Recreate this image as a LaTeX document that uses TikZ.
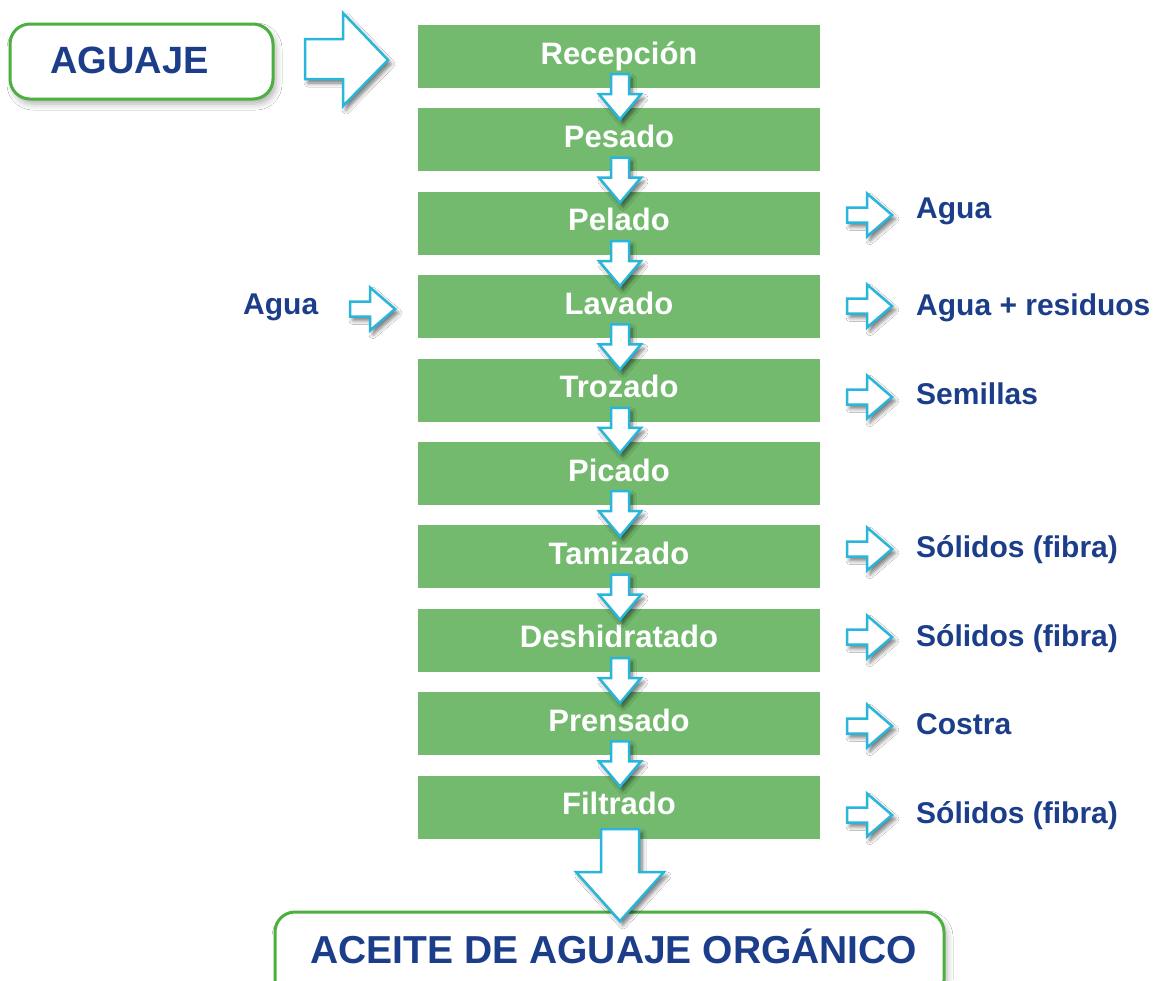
\documentclass[tikz,border=0pt]{standalone}
\usepackage{fontspec}
\setmainfont{Liberation Sans}
\usetikzlibrary{shadows,shadows.blur}
\definecolor{boxgreen}{RGB}{115,186,111}
\definecolor{navy}{RGB}{28,62,138}
\definecolor{arrowcyan}{RGB}{41,182,218}
\definecolor{framegreen}{RGB}{76,175,63}
\tikzset{
  stepbox/.style={fill=boxgreen, draw=none, minimum width=402pt, minimum height=63pt,
    inner sep=0pt, text=white, font=\fontsize{31}{36}\selectfont\bfseries,
    text height=23pt, text depth=8pt},
  blockarrow/.style={draw=arrowcyan, fill=white, line width=2.5pt, line join=miter,
    blur shadow={shadow xshift=3pt, shadow yshift=-4pt, shadow blur radius=4pt, shadow blur steps=6, shadow opacity=55}},
  sidelabel/.style={text=navy, font=\fontsize{30}{34}\selectfont\bfseries, anchor=west,
    inner sep=0pt, text height=21.5pt, text depth=0pt},
  endbox/.style={draw=framegreen, line width=3pt, fill=white, rounded corners=20pt,
    inner sep=0pt, blur shadow={shadow xshift=3pt, shadow yshift=-5pt, shadow blur radius=6pt, shadow blur steps=6, shadow opacity=30}},
  titletext/.style={text=navy, inner sep=0pt, text depth=0pt},
  downarrow/.pic={\draw[blockarrow] (-9,0) -- (9,0) -- (9,20) -- (21,20) -- (0,45) -- (-21,20) -- (-9,20) -- cycle;},
  rightarrow/.pic={\draw[blockarrow] (0,-7.5) -- (20,-7.5) -- (20,-21.5) -- (45,0) -- (20,21.5) -- (20,7.5) -- (0,7.5) -- cycle;},
}
\begin{document}
\begin{tikzpicture}[x=1pt,y=-1pt]
\useasboundingbox (0,0) rectangle (1159,980);
\clip (0,0) rectangle (1159,980);
\fill[white] (0,0) rectangle (1159,980);

% process boxes
\node[stepbox] (b1)  at (619,56.5)  {Recepción};
\node[stepbox] (b2)  at (619,139.9) {Pesado};
\node[stepbox] (b3)  at (619,223.3) {Pelado};
\node[stepbox] (b4)  at (619,306.7) {Lavado};
\node[stepbox] (b5)  at (619,390.1) {Trozado};
\node[stepbox] (b6)  at (619,473.5) {Picado};
\node[stepbox] (b7)  at (619,556.9) {Tamizado};
\node[stepbox] (b8)  at (619,640.3) {Deshidratado};
\node[stepbox] (b9)  at (619,723.7) {Prensado};
\node[stepbox] (b10) at (619,807.1) {Filtrado};

% arrows between boxes
\foreach \b in {b1,b2,b3,b4,b5,b6,b7,b8,b9}{
  \pic at ([xshift=1pt,yshift=14pt]\b.south) {downarrow};
}

% input box
\node[endbox, minimum width=263pt, minimum height=75pt] (aguajebox) at (141.5,61.5) {};
\node[titletext, font=\fontsize{38}{42}\selectfont\bfseries, text height=27pt] (aguajetxt) at (129.5,59.5) {AGUAJE};
\draw[blockarrow] (305,39) -- (343,39) -- (343,13) -- (388,60) -- (343,106) -- (343,79) -- (305,79) -- cycle;

% output box
\node[endbox, minimum width=669pt, minimum height=88pt] (aceite) at (609.5,956) {};
\node[titletext, font=\fontsize{39}{44}\selectfont\bfseries, text height=28pt] (aceitetxt) at (614,949) {ACEITE DE AGUAJE ORGÁNICO};
\draw[blockarrow] (601,829) -- (639,829) -- (639,872) -- (664,872) -- (620,921) -- (576,872) -- (601,872) -- cycle;

% left input
\node[sidelabel] (inagua) at (243,304) {Agua};
\pic at (350,309) {rightarrow};

% right outputs
\pic at (847,215) {rightarrow};
\node[sidelabel] (o1) at (916,207.5) {Agua};
\pic at (847,306) {rightarrow};
\node[sidelabel] (o2) at (916,305) {Agua + residuos};
\pic at (847,397) {rightarrow};
\node[sidelabel] (o3) at (916,394) {Semillas};
\pic at (847,549) {rightarrow};
\node[sidelabel] (o4) at (916,547) {Sólidos (fibra)};
\pic at (847,637) {rightarrow};
\node[sidelabel] (o5) at (916,636) {Sólidos (fibra)};
\pic at (847,726) {rightarrow};
\node[sidelabel] (o6) at (916,724) {Costra};
\pic at (847,815) {rightarrow};
\node[sidelabel] (o7) at (916,813) {Sólidos (fibra)};
\end{tikzpicture}
\end{document}
